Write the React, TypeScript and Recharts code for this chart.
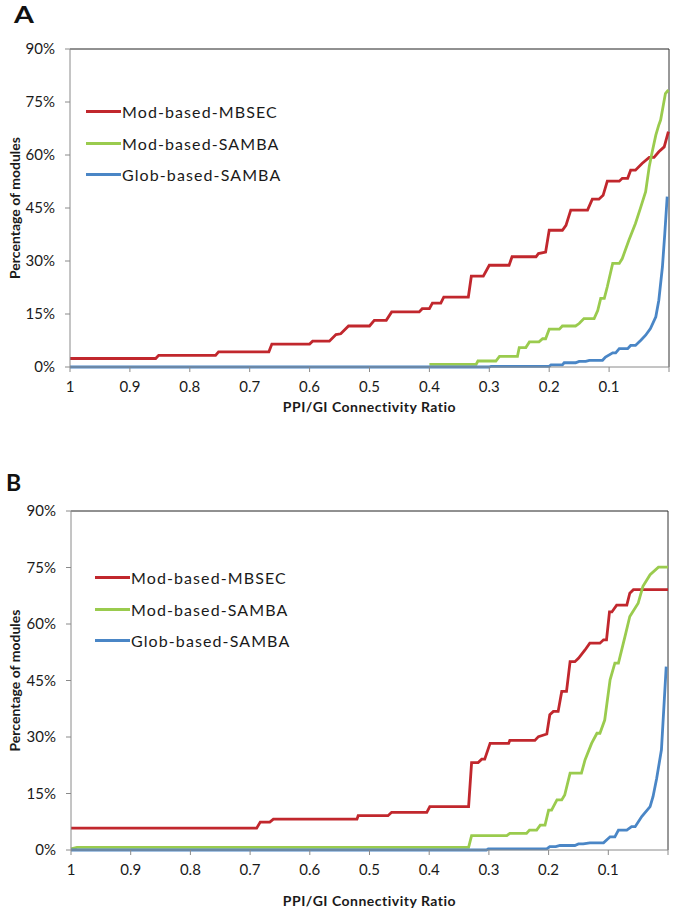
import React from 'react';
import { LineChart, Line, XAxis, YAxis, Legend, ReferenceLine, Label } from 'recharts';

// x = PPI/GI connectivity ratio, y = % of modules
const xTicks = [1, 0.9, 0.8, 0.7, 0.6, 0.5, 0.4, 0.3, 0.2, 0.1, 0];
const yTicks = [0, 15, 30, 45, 60, 75, 90];
const seriesNames = ['Mod-based-MBSEC', 'Mod-based-SAMBA', 'Glob-based-SAMBA'];
const seriesColors = ['#C1272D', '#9ACB4E', '#4A86C6'];

// panel A
const aMbsec = [
    [1, 2.4], [0.857, 2.4], [0.852, 3.3], [0.757, 3.3], [0.752, 4.3], [0.668, 4.3], [0.663, 6.5], [0.6, 6.5],
    [0.595, 7.3], [0.567, 7.3], [0.556, 9.2], [0.548, 9.4], [0.535, 11.6], [0.5, 11.6], [0.492, 13.2],
    [0.472, 13.2], [0.463, 15.6], [0.417, 15.6], [0.412, 16.5], [0.4, 16.5], [0.395, 18.1], [0.381, 18.1],
    [0.376, 19.8], [0.335, 19.8], [0.33, 25.7], [0.31, 25.7], [0.3, 28.8], [0.267, 28.8], [0.262, 31.2],
    [0.222, 31.2], [0.218, 32.1], [0.206, 32.5], [0.2, 38.7], [0.178, 38.7], [0.172, 40.1], [0.164, 44.4],
    [0.136, 44.4], [0.128, 47.5], [0.117, 47.5], [0.11, 48.6], [0.103, 52.6], [0.083, 52.6], [0.078, 53.4],
    [0.069, 53.4], [0.064, 55.7], [0.056, 55.7], [0.045, 57.6], [0.033, 59.3], [0.025, 59.3], [0.017, 60.9],
    [0.008, 62.3], [0.001, 66.6],
];
const aSamba = [
    [0.4, 0.75], [0.322, 0.75], [0.319, 1.7], [0.289, 1.7], [0.283, 3.0], [0.253, 3.0], [0.25, 5.5],
    [0.239, 5.5], [0.233, 7.1], [0.217, 7.1], [0.211, 8.0], [0.206, 8.0], [0.2, 10.7], [0.183, 10.7],
    [0.178, 11.6], [0.156, 11.6], [0.15, 12.3], [0.142, 13.7], [0.125, 13.7], [0.119, 16.0], [0.114, 19.4],
    [0.108, 19.4], [0.103, 22.7], [0.094, 29.3], [0.083, 29.3], [0.078, 30.7], [0.067, 35.9], [0.056, 40.6],
    [0.047, 45.3], [0.039, 49.6], [0.033, 56.7], [0.028, 60.9], [0.022, 65.6], [0.017, 68.5], [0.014, 69.9],
    [0.006, 77.4], [0.001, 78.4],
];
const aGlob = [
    [1, 0], [0.3, 0], [0.297, 0.2], [0.2, 0.2], [0.197, 0.6], [0.178, 0.6], [0.175, 1.2], [0.156, 1.2],
    [0.15, 1.6], [0.139, 1.6], [0.133, 1.9], [0.111, 1.9], [0.106, 2.8], [0.094, 4.0], [0.089, 4.0],
    [0.083, 5.2], [0.069, 5.2], [0.064, 6.1], [0.056, 6.1], [0.047, 7.6], [0.039, 9.0], [0.031, 10.9],
    [0.022, 14.2], [0.017, 18.9], [0.011, 28.3], [0.007, 37.8], [0.003, 48.2],
];

// panel B
const bMbsec = [
    [1, 5.8], [0.689, 5.8], [0.683, 7.4], [0.667, 7.4], [0.661, 8.2], [0.521, 8.2], [0.519, 9.1], [0.469, 9.1],
    [0.463, 10.0], [0.404, 10.0], [0.399, 11.5], [0.334, 11.5], [0.329, 23.2], [0.318, 23.2], [0.312, 24.1],
    [0.307, 24.1], [0.298, 28.3], [0.267, 28.3], [0.265, 29.1], [0.223, 29.1], [0.217, 30.1], [0.203, 30.8],
    [0.198, 35.9], [0.192, 36.8], [0.184, 36.8], [0.178, 42.1], [0.17, 42.1], [0.164, 50.0], [0.156, 50.0],
    [0.15, 50.9], [0.139, 53.1], [0.131, 54.9], [0.114, 54.9], [0.108, 55.8], [0.103, 55.8], [0.098, 63.2],
    [0.094, 63.2], [0.086, 65.0], [0.069, 65.0], [0.064, 68.2], [0.058, 69.1], [0, 69.1],
];
const bSamba = [
    [1, 0.3], [0.99, 0.7], [0.334, 0.7], [0.329, 3.8], [0.27, 3.8], [0.265, 4.4], [0.237, 4.4], [0.232, 5.3],
    [0.22, 5.3], [0.214, 6.6], [0.206, 6.6], [0.2, 10.6], [0.195, 10.6], [0.186, 13.3], [0.178, 13.3],
    [0.173, 14.6], [0.164, 20.4], [0.145, 20.4], [0.139, 23.9], [0.128, 28.3], [0.119, 31.0], [0.114, 31.0],
    [0.106, 34.5], [0.097, 45.2], [0.089, 49.6], [0.083, 49.6], [0.072, 56.7], [0.064, 62.0], [0.05, 65.5],
    [0.042, 70.0], [0.03, 73.1], [0.016, 75.1], [0, 75.1],
];
const bGlob = [
    [1, 0], [0.304, 0], [0.301, 0.3], [0.203, 0.3], [0.198, 0.9], [0.188, 0.9], [0.181, 1.2], [0.156, 1.2],
    [0.15, 1.6], [0.142, 1.6], [0.131, 1.9], [0.108, 1.9], [0.097, 3.5], [0.089, 3.5], [0.083, 5.3],
    [0.069, 5.3], [0.061, 6.2], [0.055, 6.2], [0.044, 8.9], [0.03, 11.5], [0.025, 14.2], [0.019, 19.0],
    [0.011, 26.6], [0.003, 48.7],
];

const FONT = 'Lato, "Open Sans", sans-serif';
const toPts = (arr: number[][]) => arr.map(([x, y]) => ({ x, y }));

function LegendBox({ payload }: any) {
    // keep series order (recharts sorts by name otherwise)
    const items = [...(payload || [])].sort(
        (a: any, b: any) => seriesNames.indexOf(a.value) - seriesNames.indexOf(b.value)
    );
    return (
        <div style={{ fontFamily: FONT, fontSize: 16, letterSpacing: 1.1, color: '#1a1a1a' }}>
            {items.map((p: any) => (
                <div key={p.value} style={{ display: 'flex', alignItems: 'center', height: 31.5 }}>
                    <span style={{ display: 'inline-block', width: 35, height: 3, background: p.color, marginRight: 1 }} />
                    <span>{p.value}</span>
                </div>
            ))}
        </div>
    );
}

interface PanelProps {
    series: number[][][];
    top: number;
    height: number;
    plotTop: number;
    plotBottom: number;
    plotLeft: number;
    plotRight: number;
    xLabelGap: number;
    legendLeft: number;
    legendTop: number;
}

function Panel({ series, top, height, plotTop, plotBottom, plotLeft, plotRight, xLabelGap, legendLeft, legendTop }: PanelProps) {
    const axisH = xLabelGap + 14;
    return (
        <div style={{ position: 'absolute', left: 0, top }}>
            <LineChart
                width={674}
                height={height}
                margin={{ top: plotTop, right: 674 - plotRight, left: 0, bottom: height - plotBottom - axisH }}
            >
                <XAxis
                    dataKey="x"
                    type="number"
                    domain={[0, 1]}
                    reversed
                    ticks={xTicks}
                    tickFormatter={(v: number) => (v === 0 ? '' : String(v))}
                    height={axisH}
                    tick={{ fontSize: 15, fill: '#1a1a1a', fontFamily: FONT }}
                    tickSize={5}
                    tickMargin={9}
                    axisLine={{ stroke: '#8a8a8a' }}
                    tickLine={{ stroke: '#8a8a8a' }}
                    allowDuplicatedCategory={false}
                >
                    <Label
                        content={({ viewBox }: any) => (
                            <text
                                x={viewBox.x + viewBox.width / 2}
                                y={viewBox.y + xLabelGap}
                                textAnchor="middle"
                                dominantBaseline="central"
                                fontFamily={FONT}
                                fontSize={14}
                                fontWeight="bold"
                                letterSpacing={0.5}
                                fill="#1a1a1a"
                            >
                                PPI/GI Connectivity Ratio
                            </text>
                        )}
                    />
                </XAxis>
                <YAxis
                    type="number"
                    domain={[0, 90]}
                    ticks={yTicks}
                    width={plotLeft}
                    tickFormatter={(v: number) => `${v}%`}
                    tick={{ fontSize: 15, fill: '#1a1a1a', fontFamily: FONT }}
                    tickSize={5}
                    tickMargin={10}
                    axisLine={{ stroke: '#8a8a8a' }}
                    tickLine={{ stroke: '#8a8a8a' }}
                >
                    <Label
                        content={({ viewBox }: any) => {
                            const cx = viewBox.x + 14;
                            const cy = viewBox.y + viewBox.height / 2;
                            return (
                                <text
                                    x={cx}
                                    y={cy}
                                    transform={`rotate(-90 ${cx} ${cy})`}
                                    textAnchor="middle"
                                    dominantBaseline="central"
                                    fontFamily={FONT}
                                    fontSize={14}
                                    fontWeight="bold"
                                    fill="#1a1a1a"
                                >
                                    Percentage of modules
                                </text>
                            );
                        }}
                    />
                </YAxis>
                <ReferenceLine y={90} stroke="#222" strokeWidth={1} />
                <ReferenceLine x={0} stroke="#333" strokeWidth={1} />
                <Legend
                    layout="vertical"
                    align="center"
                    verticalAlign="middle"
                    content={<LegendBox />}
                    wrapperStyle={{ left: legendLeft, top: legendTop - 16, width: 220 }}
                />
                {series.map((s, i) => (
                    <Line
                        key={seriesNames[i]}
                        data={toPts(s)}
                        dataKey="y"
                        name={seriesNames[i]}
                        type="linear"
                        stroke={seriesColors[i]}
                        strokeWidth={2.8}
                        dot={false}
                        activeDot={false}
                        isAnimationActive={false}
                    />
                ))}
            </LineChart>
        </div>
    );
}

export default function App() {
    const letter: React.CSSProperties = {
        position: 'absolute',
        fontFamily: FONT,
        fontWeight: 'bold',
        lineHeight: 1.2,
        color: '#111',
        transformOrigin: 'left top',
    };
    return (
        <div style={{ position: 'absolute', left: 0, top: 0, width: 674, height: 913, background: '#fff' }}>
            <div style={{ ...letter, left: 14, top: 2, fontSize: 22, transform: 'scaleX(1.3)' }}>A</div>
            <div style={{ ...letter, left: 6, top: 469, fontSize: 23 }}>B</div>
            <Panel
                series={[aMbsec, aSamba, aGlob]}
                top={0}
                height={430}
                plotTop={49}
                plotBottom={367}
                plotLeft={70}
                plotRight={669}
                xLabelGap={39}
                legendLeft={86}
                legendTop={112}
            />
            <Panel
                series={[bMbsec, bSamba, bGlob]}
                top={450}
                height={463}
                plotTop={61}
                plotBottom={400}
                plotLeft={71}
                plotRight={668}
                xLabelGap={50}
                legendLeft={95}
                legendTop={128}
            />
        </div>
    );
}
